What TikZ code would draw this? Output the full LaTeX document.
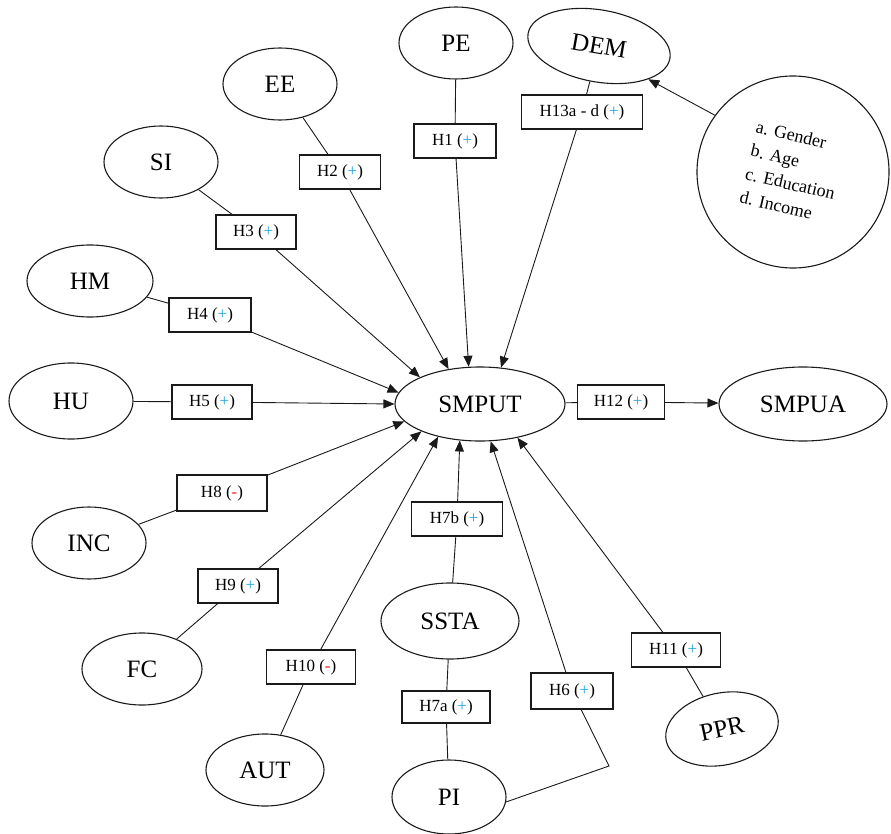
\documentclass[tikz,border=0pt]{standalone}
\usepackage{fontspec}
\setmainfont{Liberation Serif}
\usetikzlibrary{shapes.geometric,arrows.meta}
\definecolor{plusblue}{HTML}{1FA3E0}
\definecolor{minusred}{HTML}{E0261E}
\definecolor{ink}{HTML}{1A1A1A}
\newcommand{\hplus}{(\textcolor{plusblue}{+})}
\newcommand{\hminus}{(\textcolor{minusred}{-})}
\begin{document}
\begin{tikzpicture}[x=1pt,y=-1pt,
  var/.style={draw=ink, ellipse, line width=1.1pt, inner sep=0pt, font=\fontsize{25}{25}\selectfont},
  hyp/.style={draw=ink, rectangle, line width=1.1pt, inner sep=0pt, minimum height=34pt, fill=white, font=\fontsize{17}{17}\selectfont},
  link/.style={draw=ink, line width=0.9pt},
  arr/.style={draw=ink, line width=0.9pt, -{Triangle[length=11pt,width=9pt]}}]
\useasboundingbox (0,0) rectangle (891,834);

% variables
\node[var, minimum width=114pt, minimum height=72pt] (pe) at (456,43) {PE};
\node[var, rotate=-10, minimum width=144pt, minimum height=72pt] (dem) at (599,46) {DEM};
\node[var, minimum width=114pt, minimum height=72pt] (ee) at (280,84) {EE};
\node[var, minimum width=114pt, minimum height=72pt] (si) at (161,162) {SI};
\node[var, minimum width=126pt, minimum height=72pt] (hm) at (90,281) {HM};
\node[var, minimum width=124pt, minimum height=76pt] (hu) at (71,401) {HU};
\node[var, minimum width=114pt, minimum height=72pt] (inc) at (89,543) {INC};
\node[var, minimum width=120pt, minimum height=72pt] (fc) at (142,669) {FC};
\node[var, minimum width=118pt, minimum height=72pt] (aut) at (265,770) {AUT};
\node[var, minimum width=138pt, minimum height=76pt] (ssta) at (450,621) {SSTA};
\node[var, minimum width=114pt, minimum height=74pt] (pi) at (449,797) {PI};
\node[var, rotate=12, minimum width=114pt, minimum height=72pt] (ppr) at (722,729) {PPR};
\node[var, minimum width=170pt, minimum height=74pt] (smput) at (480,404) {SMPUT};
\node[var, minimum width=168pt, minimum height=74pt] (smpua) at (803,404) {SMPUA};
\node[draw=ink, circle, line width=1.1pt, inner sep=0pt, minimum size=192pt, rotate=-13,
      align=left, font=\fontsize{18}{24}\selectfont] (demo) at (793,172)
      {a. Gender\\b. Age\\c. Education\\d. Income};

% hypotheses
\node[hyp, minimum width=82pt] (h1) at (455,141) {H1 \hplus};
\node[hyp, minimum width=81pt] (h2) at (340,172) {H2 \hplus};
\node[hyp, minimum width=121pt] (h13) at (582,112) {H13a - d \hplus};
\node[hyp, minimum width=80pt] (h3) at (256,232) {H3 \hplus};
\node[hyp, minimum width=82pt] (h4) at (210,315) {H4 \hplus};
\node[hyp, minimum width=80pt] (h5) at (212,402) {H5 \hplus};
\node[hyp, minimum width=90pt, minimum height=36pt] (h8) at (222,493) {H8 \hminus};
\node[hyp, minimum width=80pt] (h9) at (238,586) {H9 \hplus};
\node[hyp, minimum width=89pt] (h10) at (311,667) {H10 \hminus};
\node[hyp, minimum width=91pt] (h7b) at (457,519) {H7b \hplus};
\node[hyp, minimum width=88pt, minimum height=32pt] (h7a) at (446,707) {H7a \hplus};
\node[hyp, minimum width=82pt, minimum height=36pt] (h6) at (572,691) {H6 \hplus};
\node[hyp, minimum width=89pt] (h11) at (676,650) {H11 \hplus};
\node[hyp, minimum width=87pt] (h12) at (621,402) {H12 \hplus};

\coordinate (corner) at (609,766);

% connectors
\draw[link] (pe) -- (h1);   \draw[arr] (h1) -- (smput.107);
\draw[link] (ee) -- (h2);   \draw[arr] (h2) -- (smput.132);
\draw[link] (dem) -- (h13); \draw[arr] (h13) -- (smput.60);
\draw[arr] (demo.157) -- (dem.-24);
\draw[link] (si) -- (h3);   \draw[arr] (h3) -- (smput.156);
\draw[link] (hm) -- (h4);   \draw[arr] (h4) -- (smput.172);
\draw[link] (hu) -- (h5);   \draw[arr] (h5) -- (smput.180);
\draw[link] (inc) -- (h8);  \draw[arr] (h8) -- (smput.193);
\draw[link] (fc) -- (h9);   \draw[arr] (h9) -- (smput.205);
\draw[link] (aut) -- (h10); \draw[arr] (h10) -- (smput.218);
\draw[link] (ssta) -- (h7b); \draw[arr] (h7b) -- (smput.241);
\draw[link] (ssta) -- (h7a); \draw[link] (h7a) -- (pi);
\draw[link] (pi.-5) -- (corner) -- (h6); \draw[arr] (h6) -- (smput.286);
\draw[link] (ppr) -- (h11); \draw[arr] (h11) -- (smput.318);
\draw[link] (smput) -- (h12); \draw[arr] (h12) -- (smpua);
\end{tikzpicture}
\end{document}
